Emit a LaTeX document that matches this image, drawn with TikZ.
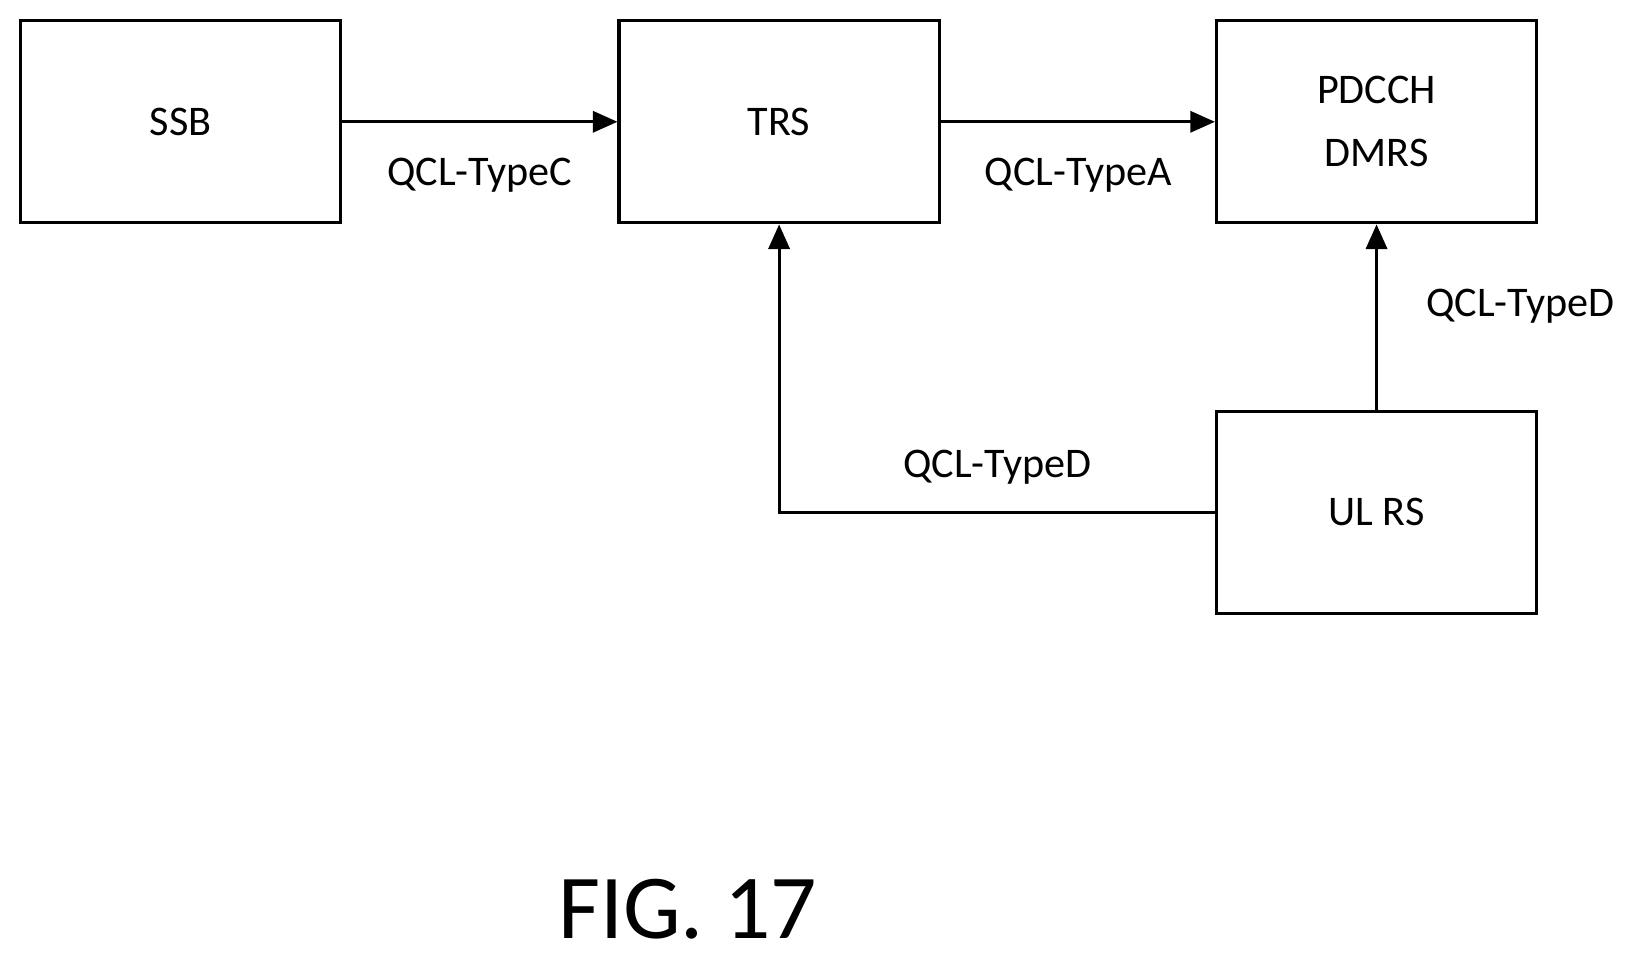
\documentclass[tikz,border=0pt]{standalone}
\usepackage{fontspec}
\setmainfont{Carlito}
\usetikzlibrary{arrows.meta}
\begin{document}
\begin{tikzpicture}[x=0.0105cm,y=-0.0105cm,
  box/.style={draw,line width=0.9pt,minimum width=3.2cm,minimum height=2.02cm,align=center,font=\fontsize{12}{18}\selectfont},
  lbl/.style={font=\fontsize{12}{14}\selectfont},
  arr/.style={line width=0.9pt,-{Triangle[length=7pt,width=6pt]}}]
\useasboundingbox (0,0) rectangle (1560,919);
\node[box] (ssb) at (172,116) {SSB};
\node[box] (trs) at (742,116) {TRS};
\node[box] (pd) at (1311,116) {PDCCH\\DMRS};
\node[box] (ul) at (1311,488) {UL RS};
\draw[arr] (ssb) -- (trs);
\draw[arr] (trs) -- (pd);
\draw[arr] (ul) -- (pd);
\draw[arr] (ul.west) -| (trs.south);
\node[lbl] (l1) at (457,167) {QCL-TypeC};
\node[lbl] (l2) at (1027,167) {QCL-TypeA};
\node[lbl] (l3) at (1448,292) {QCL-TypeD};
\node[lbl] (l4) at (950,445) {QCL-TypeD};
\node[font=\fontsize{26}{30}\selectfont] (fig) at (655,866) {FIG. 17};
\end{tikzpicture}
\end{document}
